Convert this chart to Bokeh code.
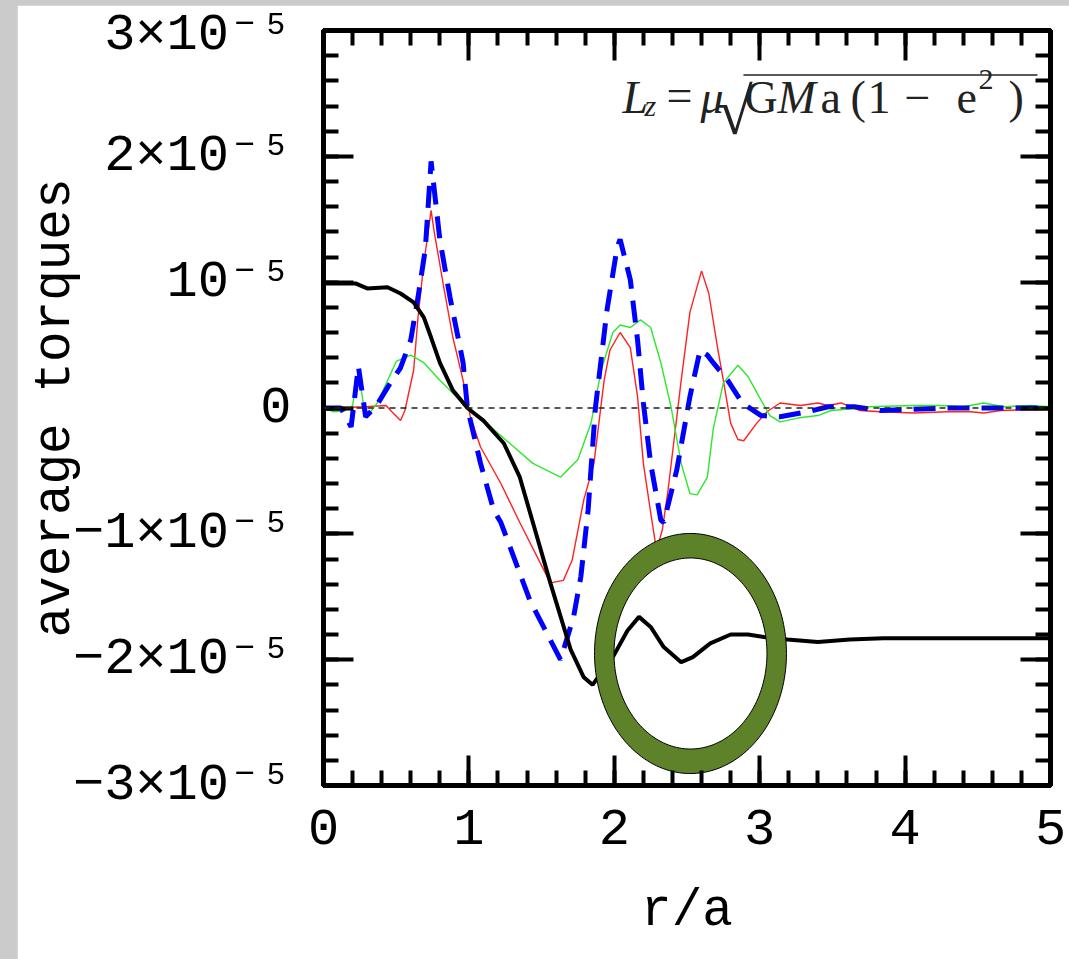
from bokeh.plotting import figure
from bokeh.models import FixedTicker, LinearAxis, Range1d, Span, Label, Spacer
from bokeh.layouts import column, row
from bokeh.embed import file_html
from bokeh.resources import INLINE
import numpy as np

# Torque profiles (units of 1e-5) versus r/a
black_r = [0.0, 0.22, 0.30, 0.44, 0.53, 0.62, 0.69, 0.74, 0.80, 0.89, 0.99, 1.10, 1.24, 1.35, 1.44,
           1.56, 1.70, 1.79, 1.85, 1.99, 2.09, 2.17, 2.25, 2.34, 2.46, 2.54, 2.66, 2.80, 2.92, 3.03,
           3.19, 3.40, 3.62, 3.85, 5.0]
black_t = [0.99, 0.99, 0.95, 0.96, 0.91, 0.84, 0.72, 0.56, 0.36, 0.14, 0.0, -0.10, -0.28, -0.55, -0.91,
           -1.39, -1.92, -2.14, -2.20, -1.98, -1.77, -1.66, -1.74, -1.90, -2.02, -1.98, -1.87, -1.80, -1.80, -1.82,
           -1.84, -1.86, -1.84, -1.83, -1.83]

blue_r = [0.0, 0.12, 0.19, 0.24, 0.29, 0.36, 0.46, 0.53, 0.60, 0.65, 0.70, 0.74, 0.80, 0.87, 0.96, 0.99,
          1.08, 1.17, 1.22, 1.42, 1.63, 1.72, 1.77, 1.82, 1.87, 1.95, 2.02, 2.04, 2.11, 2.16, 2.20, 2.25,
          2.32, 2.34, 2.43, 2.52, 2.59, 2.64, 2.68, 2.78, 2.88, 3.01, 3.14, 3.33, 3.47, 3.65, 3.83, 4.29,
          4.75, 5.0]
blue_t = [0.0, 0.0, -0.15, 0.33, -0.07, 0.01, 0.20, 0.32, 0.54, 0.88, 1.26, 1.96, 1.34, 0.88, 0.36, 0.0,
          -0.44, -0.81, -0.91, -1.53, -2.00, -1.66, -1.34, -0.81, 0.0, 0.78, 1.28, 1.34, 1.02, 0.54, 0.04, -0.44,
          -0.89, -0.91, -0.49, 0.09, 0.46, 0.42, 0.36, 0.22, 0.04, -0.06, -0.07, -0.03, 0.01, 0.01, -0.02, 0.0,
          0.0, 0.0]

red_r = [0.0, 0.29, 0.43, 0.47, 0.53, 0.56, 0.62, 0.65, 0.69, 0.74, 0.76, 0.83, 0.89, 0.96, 1.01, 1.08,
         1.22, 1.35, 1.56, 1.65, 1.71, 1.79, 1.86, 1.93, 1.97, 2.04, 2.11, 2.16, 2.20, 2.25, 2.29, 2.33,
         2.37, 2.46, 2.52, 2.60, 2.65, 2.71, 2.75, 2.80, 2.85, 2.89, 2.98, 3.05, 3.14, 3.28, 3.40, 3.47,
         3.56, 3.69, 3.83, 4.06, 4.29, 4.45, 4.54, 4.66, 4.98, 5.0]
red_t = [0.0, 0.01, 0.02, -0.03, -0.10, -0.02, 0.30, 0.72, 1.15, 1.57, 1.41, 0.94, 0.56, 0.22, -0.07, -0.31,
         -0.60, -0.91, -1.39, -1.37, -1.21, -0.73, -0.44, 0.22, 0.46, 0.60, 0.48, 0.09, -0.44, -0.83, -1.13, -0.97,
         -0.65, 0.22, 0.76, 1.09, 0.91, 0.48, 0.22, -0.12, -0.25, -0.26, -0.12, -0.03, 0.04, 0.02, 0.04, 0.02,
         0.04, -0.02, -0.03, -0.04, -0.03, -0.03, -0.04, -0.02, -0.01, -0.01]

green_r = [0.0, 0.07, 0.15, 0.20, 0.24, 0.29, 0.37, 0.50, 0.60, 0.69, 0.80, 0.94, 1.03, 1.15, 1.31, 1.44,
           1.63, 1.75, 1.84, 1.91, 1.99, 2.04, 2.11, 2.18, 2.25, 2.32, 2.39, 2.46, 2.52, 2.57, 2.64, 2.68,
           2.75, 2.85, 2.92, 3.01, 3.07, 3.14, 3.26, 3.40, 3.49, 3.60, 3.74, 4.06, 4.24, 4.40, 4.54, 4.68,
           4.86, 5.0]
green_t = [0.0, -0.03, -0.02, 0.02, 0.29, -0.08, 0.04, 0.37, 0.42, 0.36, 0.22, 0.06, -0.04, -0.15, -0.31, -0.44,
           -0.55, -0.41, -0.12, 0.30, 0.60, 0.66, 0.64, 0.70, 0.64, 0.36, 0.01, -0.44, -0.68, -0.69, -0.55, -0.17,
           0.20, 0.34, 0.25, 0.06, -0.06, -0.11, -0.08, -0.06, -0.02, -0.01, 0.01, 0.02, 0.02, 0.01, 0.04, 0.01,
           0.02, 0.01]

x_ticks = [0, 1, 2, 3, 4, 5]
y_ticks = [-3, -2, -1, 0, 1, 2, 3]
y_tick_labels = ["\u22123\u00d710\u207b\u2075", "\u22122\u00d710\u207b\u2075", "\u22121\u00d710\u207b\u2075",
                 "0", "10\u207b\u2075", "2\u00d710\u207b\u2075", "3\u00d710\u207b\u2075"]

# highlighted region (ellipse ring) around the black curve's wiggle
ring_center = (2.524, -1.951)
ring_outer = (0.660, 0.954)
ring_inner = (0.526, 0.759)

MONO = "Liberation Mono, DejaVu Sans Mono, monospace"
SERIF = "Liberation Serif, DejaVu Serif, serif"

p = figure(width=1052, height=954, x_range=Range1d(0, 5), y_range=Range1d(-3, 3),
           output_backend="svg", toolbar_location=None,
           min_border_left=306, min_border_right=19, min_border_top=25, min_border_bottom=174)
p.grid.visible = False
p.background_fill_color = "white"
p.border_fill_color = "white"
p.outline_line_color = "black"
p.outline_line_width = 5

xt = FixedTicker(ticks=x_ticks, minor_ticks=list(np.round(np.arange(0, 5.01, 0.2), 2)))
yt = FixedTicker(ticks=y_ticks, minor_ticks=list(np.round(np.arange(-3, 3.01, 0.2), 2)))


def style_axis(ax, labels=True):
    ax.axis_line_width = 5
    ax.axis_line_color = "black"
    ax.major_tick_in = 30
    ax.major_tick_out = 0
    ax.minor_tick_in = 15
    ax.minor_tick_out = 0
    ax.major_tick_line_width = 4
    ax.minor_tick_line_width = 4
    ax.major_tick_line_color = "black"
    ax.minor_tick_line_color = "black"
    ax.major_label_text_font = MONO
    ax.major_label_text_font_size = "52px" if labels else "1px"
    ax.major_label_text_color = "black"
    ax.axis_label_text_font = MONO
    ax.axis_label_text_font_size = "51px"
    ax.axis_label_text_font_style = "normal"
    ax.axis_label_text_color = "black"


xa = p.xaxis[0]
xa.ticker = xt
style_axis(xa)
xa.axis_label = "r/a"
xa.major_label_standoff = 24
xa.axis_label_standoff = 36

ya = p.yaxis[0]
ya.ticker = yt
style_axis(ya)
ya.axis_label = "average torques"
ya.major_label_standoff = 32
ya.axis_label_standoff = -14
ya.major_label_overrides = {t: s for t, s in zip(y_ticks, y_tick_labels)}

# tick marks on the top and right edges, without labels
top = LinearAxis(ticker=xt)
style_axis(top, labels=False)
top.major_label_overrides = {t: "" for t in x_ticks}
top.major_label_standoff = 0
p.add_layout(top, "above")
right = LinearAxis(ticker=yt)
style_axis(right, labels=False)
right.major_label_overrides = {t: "" for t in y_ticks}
right.major_label_standoff = 0
p.add_layout(right, "right")

# zero reference
p.add_layout(Span(location=0, dimension="width", line_color="#222222", line_width=1.5,
                  line_dash="6 5"))

p.line(red_r, red_t, line_color="#ff2222", line_width=1.4)
p.line(green_r, green_t, line_color="#2ee82e", line_width=1.4)
p.line(blue_r, blue_t, line_color="#0000ff", line_width=5, line_dash="22 12")
p.line(black_r, black_t, line_color="black", line_width=4)

# ring
th = np.linspace(0, 2 * np.pi, 180)
ox = list(ring_center[0] + ring_outer[0] * np.cos(th))
oy = list(ring_center[1] + ring_outer[1] * np.sin(th))
ix = list(ring_center[0] + ring_inner[0] * np.cos(th))
iy = list(ring_center[1] + ring_inner[1] * np.sin(th))
p.multi_polygons(xs=[[[ox, ix]]], ys=[[[oy, iy]]], fill_color="#5d8229",
                 line_color="black", line_width=1)

# angular momentum formula, upper right (offsets in pixels from the anchor)
X0, Y0 = 2.056, 2.345
SX, SY = 145.4, 125.8
BASE_SHIFT = -15


def fx(dx):
    return X0 + dx / SX


def fy(dy):
    return Y0 - dy / SY


def put(text, dx, dy, size, style="normal"):
    p.add_layout(Label(x=fx(dx), y=fy(dy + BASE_SHIFT), text=text, text_font=SERIF,
                       text_font_size=size, text_font_style=style, text_color="#222222",
                       text_baseline="alphabetic", text_align="left"))


put("L", 0, 0, "46px", "italic")
put("z", 22, 8, "30px", "italic")
put("=", 44, -2, "46px")
put("\u03bc", 78, 0, "46px", "italic")
put("\u221a", 94, 14, "66px")
put("G", 122, 0, "46px")
put("M", 155, 0, "46px", "italic")
put("a", 198, 0, "46px")
put("(", 228, 0, "46px")
put("1", 245, 0, "46px")
put("\u2212", 282, 0, "46px")
put("e", 334, 0, "46px")
put("2", 356, -18, "30px")
put(")", 386, 0, "46px")
p.segment(x0=[fx(121)], y0=[fy(-38)], x1=[fx(415)], y1=[fy(-38)], line_color="#222222",
          line_width=1.5)

layout = column(Spacer(width=1069, height=5),
                row(Spacer(width=17, height=954), p),
                styles={"background-color": "#cbcbcb"})

open("out.html", "w").write(file_html(layout, INLINE))
